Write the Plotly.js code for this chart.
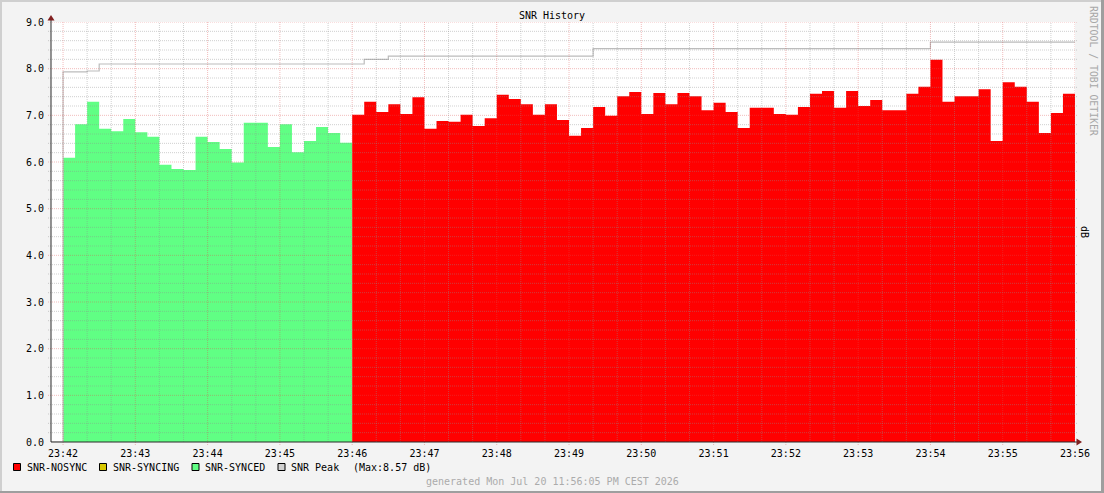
<!DOCTYPE html>
<html>
<head>
<meta charset="utf-8">
<script src="https://cdn.plot.ly/plotly-3.0.1.min.js"></script>
<style>html,body{margin:0;padding:0;background:#f3f3f3;}#chart{width:1104px;height:493px;}</style>
</head>
<body>
<div id="chart"></div>
<script>
// ---- data (10 s samples) ----
const dayPrefix = '2026-07-20 ';
const startSec = 85320;   // 23:42:00
const stepSec = 10;

const syncedSNR = [6.09, 6.81, 7.29, 6.71, 6.66, 6.92, 6.64, 6.54, 5.94, 5.85, 5.83, 6.54,
                   6.43, 6.28, 5.99, 6.84, 6.84, 6.32, 6.81, 6.21, 6.45, 6.75, 6.62, 6.41];

const nosyncSNR = [7.01, 7.29, 7.07, 7.24, 7.03, 7.39, 6.71, 6.88, 6.86, 7.01,
                   6.77, 6.94, 7.44, 7.35, 7.24, 7.01, 7.24, 6.90, 6.56, 6.73,
                   7.18, 6.99, 7.41, 7.50, 7.03, 7.48, 7.24, 7.48, 7.41, 7.11,
                   7.27, 7.07, 6.73, 7.16, 7.16, 7.03, 7.01, 7.18, 7.46, 7.52,
                   7.16, 7.52, 7.20, 7.33, 7.11, 7.11, 7.46, 7.61, 8.19, 7.29,
                   7.41, 7.41, 7.56, 6.45, 7.71, 7.61, 7.29, 6.62, 7.05, 7.46];

const peakBefore = 0;
const peakSNR = [7.93, 7.93, 7.95,
  8.10, 8.10, 8.10, 8.10, 8.10, 8.10, 8.10, 8.10, 8.10, 8.10, 8.10,
  8.10, 8.10, 8.10, 8.10, 8.10, 8.10, 8.10, 8.10, 8.10, 8.10, 8.10,
  8.20, 8.20,
  8.27, 8.27, 8.27, 8.27, 8.27, 8.27, 8.27, 8.27, 8.27, 8.27, 8.27, 8.27, 8.27, 8.27, 8.27, 8.27, 8.27,
  8.43, 8.43, 8.43, 8.43, 8.43, 8.43, 8.43, 8.43, 8.43, 8.43, 8.43, 8.43, 8.43, 8.43,
  8.43, 8.43, 8.43, 8.43, 8.43, 8.43, 8.43, 8.43, 8.43, 8.43, 8.43, 8.43, 8.43, 8.43,
  8.57, 8.57, 8.57, 8.57, 8.57, 8.57, 8.57, 8.57, 8.57, 8.57, 8.57, 8.57];

const legendLabels = ['SNR-NOSYNC', 'SNR-SYNCING', 'SNR-SYNCED', 'SNR Peak'];
const legendColors = ['#ff0000', '#d8c800', '#60ff84', '#d0d0d0'];

// ---- helpers ----
function pad(n){ return (n < 10 ? '0' : '') + n; }
function ts(sec){
  const h = Math.floor(sec / 3600), m = Math.floor((sec % 3600) / 60), s = sec % 60;
  return dayPrefix + pad(h) + ':' + pad(m) + ':' + pad(s);
}
function stepSeries(values, firstIndex){
  const x = [], y = [];
  values.forEach((v, i) => { x.push(ts(startSec + (firstIndex + i) * stepSec)); y.push(v); });
  x.push(ts(startSec + (firstIndex + values.length) * stepSec));
  y.push(values[values.length - 1]);
  return {x, y};
}
// pixel -> paper conversion for decorations
const L = 51, R = 1075, T = 22, B = 442;
const px = x => (x - L) / (R - L);
const py = y => (B - y) / (B - T);

const g = stepSeries(syncedSNR, 0);
const r = stepSeries(nosyncSNR, syncedSNR.length);
const p = stepSeries(peakSNR, 0);
p.x.unshift(ts(startSec - stepSec));
p.y.unshift(peakBefore);

const traces = [
  {x: g.x, y: g.y, type: 'scatter', mode: 'lines', line: {shape: 'hv', width: 0, color: legendColors[2]},
   fill: 'tozeroy', fillcolor: legendColors[2], hoverinfo: 'skip'},
  {x: r.x, y: r.y, type: 'scatter', mode: 'lines', line: {shape: 'hv', width: 0, color: legendColors[0]},
   fill: 'tozeroy', fillcolor: legendColors[0], hoverinfo: 'skip'},
  {x: p.x, y: p.y, type: 'scatter', mode: 'lines', line: {shape: 'hv', width: 1.2, color: '#bcbcbc'},
   hoverinfo: 'skip'}
];

// ---- grid drawn above the areas, as RRDtool does ----
const shapes = [];
const minorCol = 'rgba(143,143,143,0.42)', majorCol = 'rgba(222,79,79,0.38)';
for (let s = 0; s <= 840; s += 20) {
  const major = s % 60 === 0;
  shapes.push({type: 'line', xref: 'x', yref: 'paper', x0: ts(startSec + s), x1: ts(startSec + s),
    y0: major ? py(445) : 0, y1: 1, layer: 'above',
    line: {color: major ? majorCol : minorCol, width: 1, dash: '1px,1px'}});
}
for (let i = 1; i <= 45; i++) {
  const major = i % 5 === 0;
  shapes.push({type: 'line', xref: 'paper', yref: 'y', x0: px(48), x1: px(1078), y0: i / 5, y1: i / 5,
    layer: 'above', line: {color: major ? majorCol : minorCol, width: 1, dash: '1px,1px'}});
}
// axes + arrows
shapes.push({type: 'line', xref: 'paper', yref: 'paper', x0: 0, x1: 0, y0: 0, y1: py(19), layer: 'above',
  line: {color: '#2a2a2a', width: 1}});
shapes.push({type: 'line', xref: 'paper', yref: 'paper', x0: 0, x1: px(1078), y0: 0, y1: 0, layer: 'above',
  line: {color: '#2a2a2a', width: 1}});
shapes.push({type: 'path', xref: 'paper', yref: 'paper', layer: 'above',
  path: `M ${px(51)} ${py(15)} L ${px(47.5)} ${py(20.5)} L ${px(54.5)} ${py(20.5)} Z`,
  fillcolor: '#801f1f', line: {width: 0}});
shapes.push({type: 'path', xref: 'paper', yref: 'paper', layer: 'above',
  path: `M ${px(1082)} ${py(442)} L ${px(1076.5)} ${py(438.5)} L ${px(1076.5)} ${py(445.5)} Z`,
  fillcolor: '#801f1f', line: {width: 0}});
// frame (3D shade)
shapes.push({type: 'rect', xref: 'paper', yref: 'paper', x0: px(0), x1: px(1104), y0: py(0), y1: py(2),
  fillcolor: '#cfcfcf', line: {width: 0}, layer: 'above'});
shapes.push({type: 'rect', xref: 'paper', yref: 'paper', x0: px(0), x1: px(2), y0: py(0), y1: py(493),
  fillcolor: '#cfcfcf', line: {width: 0}, layer: 'above'});
shapes.push({type: 'rect', xref: 'paper', yref: 'paper', x0: px(0), x1: px(1104), y0: py(491), y1: py(493),
  fillcolor: '#9e9e9e', line: {width: 0}, layer: 'above'});
shapes.push({type: 'rect', xref: 'paper', yref: 'paper', x0: px(1101), x1: px(1104), y0: py(0), y1: py(493),
  fillcolor: '#9e9e9e', line: {width: 0}, layer: 'above'});

// ---- legend (RRDtool style) ----
const annotations = [];
const legendBoxX = [13.5, 99.5, 192, 278];
const legendTextX = [25.5, 111.5, 203.5, 289.5];
const legendY = 467;
legendLabels.forEach((lab, i) => {
  shapes.push({type: 'rect', xref: 'paper', yref: 'paper', x0: px(legendBoxX[i]), x1: px(legendBoxX[i] + 7),
    y0: py(legendY - 3.5), y1: py(legendY + 3.5), fillcolor: legendColors[i],
    line: {color: '#000000', width: 1}, layer: 'above'});
  annotations.push({xref: 'paper', yref: 'paper', x: px(legendTextX[i]), y: py(legendY), text: lab,
    showarrow: false, xanchor: 'left', yanchor: 'middle', borderpad: 0,
    font: {family: 'DejaVu Sans Mono', size: 10, color: '#000'}});
});
annotations.push({xref: 'paper', yref: 'paper', x: px(352), y: py(legendY),
  text: '(Max:' + Math.max(...peakSNR).toFixed(2) + ' dB)', showarrow: false, xanchor: 'left', yanchor: 'middle',
  borderpad: 0, font: {family: 'DejaVu Sans Mono', size: 10, color: '#000'}});
annotations.push({xref: 'paper', yref: 'paper', x: px(552), y: py(481),
  text: 'generated Mon Jul 20 11:56:05 PM CEST 2026', showarrow: false, xanchor: 'center', yanchor: 'middle',
  borderpad: 0, font: {family: 'DejaVu Sans Mono', size: 10, color: '#ababab'}});
annotations.push({xref: 'paper', yref: 'paper', x: px(1093), y: py(5),
  text: 'RRDTOOL / TOBI OETIKER', textangle: 90, showarrow: false, xanchor: 'center', yanchor: 'top',
  borderpad: 0, font: {family: 'DejaVu Sans Mono', size: 9.8, color: '#a8a8a8'}});
annotations.push({xref: 'paper', yref: 'paper', x: px(1085), y: 0.5,
  text: 'dB', textangle: 90, showarrow: false, xanchor: 'center', yanchor: 'middle',
  borderpad: 0, font: {family: 'DejaVu Sans Mono', size: 10, color: '#000'}});

const layout = {
  width: 1104, height: 493,
  margin: {l: L, r: 1104 - R, t: T, b: 493 - B, pad: 0},
  paper_bgcolor: '#f3f3f3', plot_bgcolor: '#ffffff',
  showlegend: false,
  font: {family: 'DejaVu Sans Mono', size: 10, color: '#000'},
  title: {text: 'SNR History', x: 0.5, xref: 'container', xanchor: 'center',
          y: 1 - 15 / 493, yref: 'container', yanchor: 'middle', font: {family: 'DejaVu Sans Mono', size: 10, color: '#000'}},
  xaxis: {type: 'date', range: [ts(startSec - stepSec), ts(startSec + 84 * stepSec)],
          tickformat: '%H:%M', dtick: 60000, tick0: ts(startSec), showgrid: false, zeroline: false, showline: false,
          ticks: 'outside', ticklen: 2, tickcolor: 'rgba(0,0,0,0)', tickfont: {family: 'DejaVu Sans Mono', size: 10, color: '#000'},
          fixedrange: true},
  yaxis: {range: [0, 9], dtick: 1, tickformat: '.1f', showgrid: false, zeroline: false, showline: false,
          ticks: 'outside', ticklen: 4, tickcolor: 'rgba(0,0,0,0)', tickfont: {family: 'DejaVu Sans Mono', size: 10, color: '#000'},
          fixedrange: true},
  shapes: shapes,
  annotations: annotations
};

Plotly.newPlot('chart', traces, layout, {staticPlot: true, displayModeBar: false});
</script>
</body>
</html>
